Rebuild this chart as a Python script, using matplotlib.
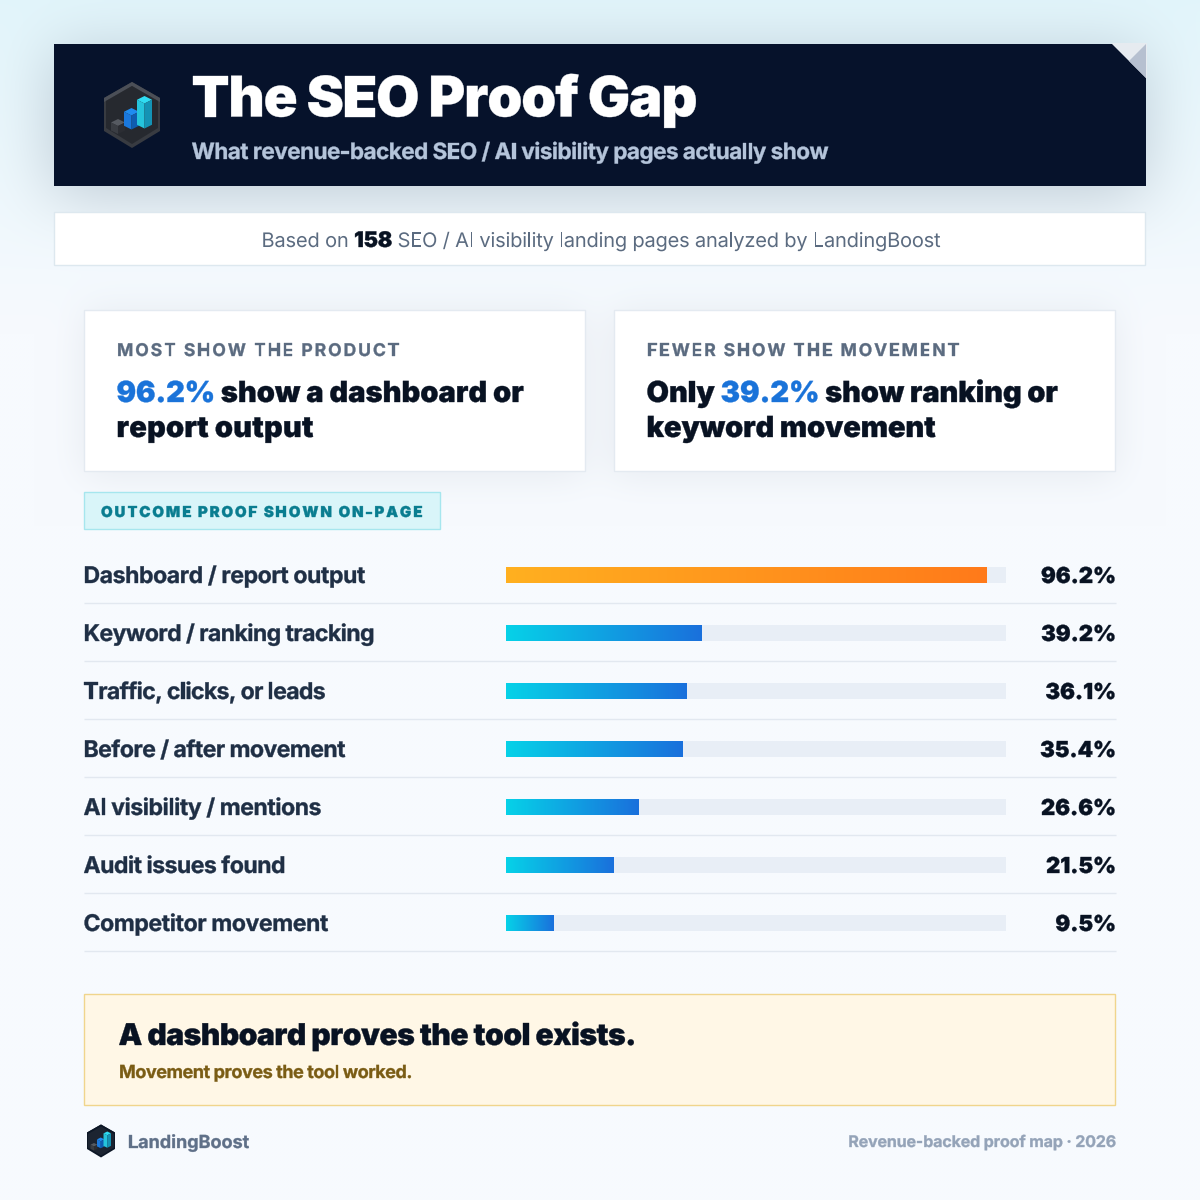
import numpy as np
import matplotlib
matplotlib.use("Agg")
import matplotlib.pyplot as plt
from matplotlib import font_manager as fm
from matplotlib.colors import LinearSegmentedColormap
from matplotlib.patches import PathPatch, Polygon, Rectangle
from matplotlib.text import Text
from matplotlib.textpath import TextPath
from matplotlib.transforms import Affine2D

plt.rcParams["text.hinting"] = "no_hinting"
plt.rcParams["text.hinting_factor"] = 1

categories = ["Dashboard / report output", "Keyword / ranking tracking", "Traffic, clicks, or leads",
              "Before / after movement", "AI visibility / mentions", "Audit issues found", "Competitor movement"]
values = [96.2, 39.2, 36.1, 35.4, 26.6, 21.5, 9.5]
value_labels = ["96.2%", "39.2%", "36.1%", "35.4%", "26.6%", "21.5%", "9.5%"]

title = "The SEO Proof Gap"
subtitle = "What revenue-backed SEO / AI visibility pages actually show"
footer_right = "Revenue-backed proof map · 2026"

INK = "#081222"
BLUE = "#1a73d9"

fig = plt.figure(figsize=(12, 12), dpi=100)
bg = fig.add_axes([0, 0, 1, 1])
bg.set_xlim(0, 1200)
bg.set_ylim(1200, 0)
bg.axis("off")
renderer = fig.canvas.get_renderer()


def fp(size, weight):
    return fm.FontProperties(family="Inter", size=size * 0.72, weight=weight)


def measure(s, size, weight, track=0):
    w, _, _ = renderer.get_text_width_height_descent(s, fp(size, weight), False)
    return w + track * len(s)


class TrackedText(Text):
    # one text object, drawn letter by letter so css letter-spacing can be matched
    def __init__(self, x, y, s, track, px, stroke, **kw):
        super().__init__(x, y, s, **kw)
        self.track = track
        self.px = px
        self.stroke = stroke

    def draw(self, rend):
        s = self.get_text()
        x0, y0 = self.get_transform().transform(self.get_position())
        fprop = self.get_fontproperties()
        for i, ch in enumerate(s):
            adv = rend.get_text_width_height_descent(s[:i], fprop, False)[0] if i else 0
            if ch != " ":
                # glyph outlines keep the sub-pixel position, agg text would round it
                path = TextPath((0, 0), ch, size=self.px, prop=fprop)
                glyph = PathPatch(path, facecolor=self.get_color(), edgecolor=self.get_color(), lw=self.stroke,
                                  transform=Affine2D().translate(x0 + adv + self.track * i, y0))
                glyph.set_figure(self.get_figure())
                glyph.draw(rend)


def put(x, y, s, size, color, weight="normal", track=0, right=False):
    if right:
        x = x - measure(s, size, weight, track)
    stroke = 0.25 if weight in ("bold", "black") else 0
    t = TrackedText(x, y, s, track, size, stroke, color=color, fontproperties=fp(size, weight), va="baseline",
                    ha="left", transform=bg.transData, zorder=6)
    bg.add_artist(t)
    return x + measure(s, size, weight, track)


def box(x0, y0, x1, y1, face, edge="none", z=2):
    bg.add_patch(Rectangle((x0, y0), x1 - x0, y1 - y0, facecolor=face, edgecolor=edge, linewidth=1, zorder=z))


def blur(a, r):
    k = np.ones(2 * r + 1) / (2 * r + 1)
    for _ in range(3):
        a = np.apply_along_axis(lambda v: np.convolve(v, k, mode="same"), 0, a)
        a = np.apply_along_axis(lambda v: np.convolve(v, k, mode="same"), 1, a)
    return a


# page background with soft shadows, done at quarter size
H = 300
grad = np.clip(np.linspace(0, 1200, H) / 330, 0, 1)[:, None, None]
top = np.array([226, 245, 251]) / 255
low = np.array([247, 250, 254]) / 255
page = np.ones((H, H, 3)) * (top * (1 - grad) + low * grad)


def shadow(img, x0, y0, x1, y1, dy, r, alpha):
    m = np.zeros((H, H))
    m[(y0 + dy) // 4:(y1 + dy) // 4, x0 // 4:x1 // 4] = 1
    m = blur(m, r)[:, :, None] * alpha
    return img * (1 - m) + np.array([10, 30, 60]) / 255 * m


page = shadow(page, 54, 44, 1146, 186, 10, 7, 0.20)
page = shadow(page, 84, 310, 586, 472, 4, 4, 0.07)
page = shadow(page, 614, 310, 1116, 472, 4, 4, 0.07)
bg.imshow(page, extent=(0, 1200, 1200, 0), aspect="auto", zorder=0, interpolation="bilinear")
bg.set_xlim(0, 1200)
bg.set_ylim(1200, 0)


def iso_bar(cx, ytop, h, w, c_top, c_left, c_right):
    d = w * 0.5
    bg.add_patch(Polygon([(cx, ytop), (cx + w, ytop + d), (cx, ytop + 2 * d), (cx - w, ytop + d)], fc=c_top, ec="none", zorder=5))
    bg.add_patch(Polygon([(cx - w, ytop + d), (cx, ytop + 2 * d), (cx, ytop + 2 * d + h), (cx - w, ytop + d + h)], fc=c_left, ec="none", zorder=5))
    bg.add_patch(Polygon([(cx + w, ytop + d), (cx, ytop + 2 * d), (cx, ytop + 2 * d + h), (cx + w, ytop + d + h)], fc=c_right, ec="none", zorder=5))


def logo(cx, cy, s, face, rim, rim_top):
    hexa = [(0, -33), (28, -17), (28, 16), (0, 33), (-28, 16), (-28, -17)]
    bg.add_patch(Polygon([(cx + a * s, cy + b * s) for a, b in hexa], fc=rim, ec="none", zorder=3))
    chevron = [(0, -33), (28, -17), (28, -13), (0, -29), (-28, -13), (-28, -17)]
    bg.add_patch(Polygon([(cx + a * s, cy + b * s) for a, b in chevron], fc=rim_top, ec="none", zorder=4))
    inner = [(0, -29), (26, -14), (26, 13), (0, 29), (-26, 13), (-26, -14)]
    bg.add_patch(Polygon([(cx + a * s, cy + b * s) for a, b in inner], fc=face, ec="none", zorder=4))
    iso_bar(cx - 14 * s, cy + 4 * s, 8 * s, 7 * s, "#565a61", "#3a3d43", "#2b2d33")
    iso_bar(cx - 0.5 * s, cy - 7 * s, 14 * s, 7.5 * s, "#1f8cf0", "#1a78dd", "#0f5cb0")
    iso_bar(cx + 12.5 * s, cy - 19 * s, 25 * s, 7.5 * s, "#2fdcf2", "#25c4dc", "#1493b5")


# header
box(53.5, 43.5, 1145.5, 185.5, "#06122b", z=2)
bg.add_patch(Polygon([(1111, 43), (1147, 43), (1147, 79)], fc="#e6ebf0", ec="none", zorder=3))
bg.add_patch(Polygon([(1146, 44), (1146, 78), (1129, 61)], fc="#b6c0d0", ec="none", zorder=4))
logo(132, 115, 1.0, "#26292f", "#383b41", "#4b4f57")
put(191, 116.5, title, 56, "#ffffff", "black", track=-1.07)
put(191.5, 159, subtitle, 22.5, "#b4c4da", "bold", track=-0.53)

# info band
box(54, 212, 1145, 265, "#ffffff", "#dde8ef")
band_y = 247
x = 261.5
x = put(x, band_y, "Based on ", 20, "#5b6b80", track=-0.13)
x = put(x, band_y, "158", 21.5, INK, "black", track=-0.2)
put(x, band_y, " SEO / AI visibility landing pages analyzed by LandingBoost", 20, "#5b6b80", track=-0.17)

# stat cards
for cx0 in (84, 614):
    box(cx0, 310, cx0 + 501, 471, "#ffffff", "#e4eaf1")
put(117, 356, "MOST SHOW THE PRODUCT", 17.5, "#5b6b80", "bold", track=1.97)
x = put(116.5, 402, "96.2%", 29, BLUE, "black", track=-0.1)
put(x, 402, " show a dashboard or", 29, INK, "black", track=0.05)
put(116.5, 437, "report output", 29, INK, "black", track=0.2)
put(647, 356, "FEWER SHOW THE MOVEMENT", 17.5, "#5b6b80", "bold", track=1.9)
x = put(646.5, 402, "Only ", 29, INK, "black")
x = put(x, 402, "39.2%", 29, BLUE, "black")
put(x, 402, " show ranking or", 29, INK, "black", track=-0.1)
put(646.5, 437, "keyword movement", 29, INK, "black", track=-0.12)

# section tag
box(84, 492, 440, 529, "#d9f5f9", "#a6e6ee")
put(101, 517, "OUTCOME PROOF SHOWN ON-PAGE", 15, "#0a7d90", "black", track=1.85)

# bar rows
ax = fig.add_axes([506 / 1200, 1 - 952 / 1200, 500 / 1200, 406 / 1200])
ax.patch.set_alpha(0)
ax.axis("off")
orange = LinearSegmentedColormap.from_list("o", ["#ffb020", "#ff7a1a"])
teal = LinearSegmentedColormap.from_list("t", ["#06d2e8", "#1a70dc"])
g = np.linspace(0, 1, 256)[None, :]
bar_h = 16 / 58
label_ends = [365, 374, 325, 345, 321, 285, 328]  # right edge of each row label in the reference
ax.barh(range(len(values)), [100] * len(values), height=bar_h, color="#e8eef6", zorder=1)
for i, v in enumerate(values):
    ax.imshow(g, extent=(0, v, i + bar_h / 2, i - bar_h / 2), aspect="auto", cmap=orange if i == 0 else teal, zorder=2)
    yc = 575 + 58 * i
    fit = (label_ends[i] - 83.5 - measure(categories[i], 23, "bold")) / len(categories[i])
    put(83.5, yc + 8, categories[i], 23, "#1f2f45", "bold", track=fit)
    put(1116, yc + 8, value_labels[i], 22, INK, "black", right=True)
    bg.plot([84, 1116], [yc + 28] * 2, color="#e2e8f0", lw=1, zorder=1, solid_capstyle="butt")
ax.set_xlim(0, 100)
ax.set_ylim(len(values) - 0.5, -0.5)

# callout
box(84, 994, 1115, 1105, "#fff7e6", "#f0d58c")
put(118.5, 1045, "A dashboard proves the tool exists.", 30, INK, "black", track=-0.47)
put(119, 1078, "Movement proves the tool worked.", 18, "#7a5c14", "bold", track=-0.43)

# footer
logo(101, 1141, 0.5, "#1c2431", "#0d1726", "#0d1726")
put(128, 1148, "LandingBoost", 18, "#5f7088", "bold")
put(1116, 1147, footer_right, 16, "#94a3b8", "bold", track=-0.15, right=True)

fig.savefig("out.png", dpi=100)
